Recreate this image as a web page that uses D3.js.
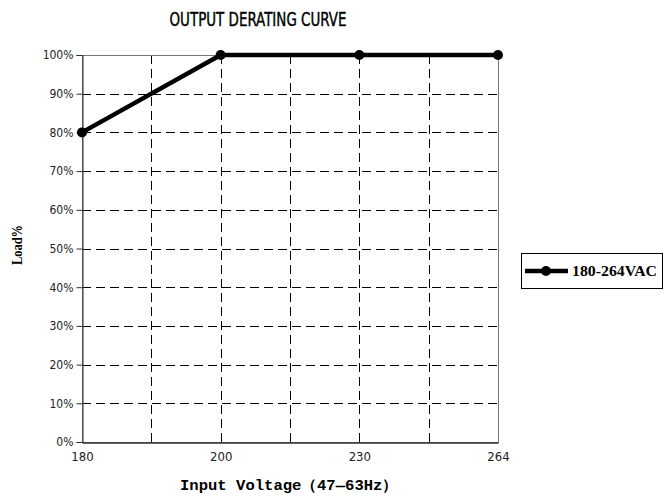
<!DOCTYPE html>
<html>
<head>
<meta charset="utf-8">
<script src="https://cdn.jsdelivr.net/npm/d3@7"></script>
<style>
  body { margin: 0; background: #fff; }
  svg { display: block; }
</style>
</head>
<body>
<div id="chart"></div>
<script>
// Output derating curve
var categories = ["180", "200", "230", "264"];
var loads = [80, 100, 100, 100];
var yTicks = [0, 10, 20, 30, 40, 50, 60, 70, 80, 90, 100];
var seriesName = "180-264VAC";

var svgWidth = 667, svgHeight = 497;
var plot = {left: 82, right: 498, top: 55, bottom: 442};

var svg = d3.select("#chart").append("svg")
    .attr("width", svgWidth)
    .attr("height", svgHeight);

var x = d3.scalePoint().domain(categories).range([plot.left, plot.right]);
var y = d3.scaleLinear().domain([0, 100]).range([plot.bottom, plot.top]);

// vertical dashed grid: at categories and halfway between them
var xGrid = [];
categories.forEach(function(c, i) {
  if (i > 0) {
    xGrid.push((x(categories[i - 1]) + x(c)) / 2);
    if (i < categories.length - 1) xGrid.push(x(c));
  }
});

svg.append("g").selectAll("line")
    .data(xGrid)
  .enter().append("line")
    .attr("x1", function(d) { return Math.round(d) + 0.5; })
    .attr("x2", function(d) { return Math.round(d) + 0.5; })
    .attr("y1", plot.top)
    .attr("y2", plot.bottom)
    .attr("stroke", "#000")
    .attr("stroke-width", 1)
    .attr("stroke-dasharray", "9,5");

svg.append("g").selectAll("line")
    .data(yTicks.filter(function(t) { return t > 0 && t < 100; }))
  .enter().append("line")
    .attr("x1", plot.left)
    .attr("x2", plot.right)
    .attr("y1", function(d) { return Math.round(y(d)) + 0.5; })
    .attr("y2", function(d) { return Math.round(y(d)) + 0.5; })
    .attr("stroke", "#000")
    .attr("stroke-width", 1)
    .attr("stroke-dasharray", "9,5");

// plot border
svg.append("rect")
    .attr("x", plot.left + 0.5)
    .attr("y", plot.top + 0.5)
    .attr("width", plot.right - plot.left)
    .attr("height", plot.bottom - plot.top)
    .attr("fill", "none")
    .attr("stroke", "#777")
    .attr("stroke-width", 1);

// y axis
var leftAxis = d3.axisLeft(y)
    .tickValues(yTicks)
    .tickSize(6)
    .tickPadding(3)
    .tickFormat(function(d) { return d + "%"; });

var gy = svg.append("g")
    .attr("transform", "translate(" + (plot.left + 0.5) + ",0)")
    .call(leftAxis);
gy.select(".domain").attr("stroke", "#333");
gy.selectAll(".tick line").attr("stroke", "#333");
gy.selectAll("text")
    .style("font-family", "'DejaVu Sans Condensed', 'Liberation Sans Narrow', sans-serif")
    .style("font-size", "12px")
    .attr("fill", "#222");

// x axis
var bottomAxis = d3.axisBottom(x).tickSize(0).tickPadding(9);
var gx = svg.append("g")
    .attr("transform", "translate(0," + (plot.bottom + 0.5) + ")")
    .call(bottomAxis);
gx.select(".domain").attr("stroke", "#333").attr("stroke-width", 1.5);
gx.selectAll("text")
    .style("font-family", "'DejaVu Sans Condensed', 'Liberation Sans Narrow', sans-serif")
    .style("font-size", "13px")
    .attr("fill", "#222");

// series line
var line = d3.line()
    .x(function(d, i) { return x(categories[i]); })
    .y(function(d) { return y(d); });

svg.append("path")
    .datum(loads)
    .attr("d", line)
    .attr("fill", "none")
    .attr("stroke", "#000")
    .attr("stroke-width", 4.5)
    .attr("stroke-linejoin", "round");

svg.append("g").selectAll("circle")
    .data(loads)
  .enter().append("circle")
    .attr("cx", function(d, i) { return x(categories[i]); })
    .attr("cy", function(d) { return y(d); })
    .attr("r", 5)
    .attr("fill", "#000");

// title
svg.append("text")
    .attr("x", 258)
    .attr("y", 26)
    .attr("text-anchor", "middle")
    .style("font-family", "'Liberation Sans Narrow', 'DejaVu Sans Condensed', sans-serif")
    .style("font-size", "19px")
    .style("stroke", "#000")
    .style("stroke-width", 0.4)
    .attr("textLength", 177)
    .attr("lengthAdjust", "spacingAndGlyphs")
    .text("OUTPUT DERATING CURVE");

// axis titles
svg.append("text")
    .attr("transform", "translate(22,245) rotate(-90)")
    .attr("text-anchor", "middle")
    .style("font-family", "'Liberation Serif', serif")
    .style("font-weight", "bold")
    .style("font-size", "14px")
    .attr("textLength", 40)
    .attr("lengthAdjust", "spacingAndGlyphs")
    .text("Load%");

svg.append("text")
    .attr("x", 289)
    .attr("y", 490)
    .attr("text-anchor", "middle")
    .style("font-family", "'Liberation Mono', monospace")
    .style("font-weight", "bold")
    .style("font-size", "15px")
    .attr("textLength", 218)
    .attr("lengthAdjust", "spacingAndGlyphs")
    .text("Input Voltage\uFF0847\u201463Hz\uFF09");

// legend
var legend = svg.append("g");
legend.append("rect")
    .attr("x", 521.5)
    .attr("y", 253.5)
    .attr("width", 141)
    .attr("height", 35)
    .attr("fill", "#fff")
    .attr("stroke", "#000")
    .attr("stroke-width", 1);
legend.append("line")
    .attr("x1", 525).attr("x2", 568)
    .attr("y1", 271).attr("y2", 271)
    .attr("stroke", "#000")
    .attr("stroke-width", 4.5);
legend.append("circle")
    .attr("cx", 546).attr("cy", 271).attr("r", 5)
    .attr("fill", "#000");
legend.append("text")
    .attr("x", 572)
    .attr("y", 276)
    .style("font-family", "'Liberation Serif', serif")
    .style("font-weight", "bold")
    .style("font-size", "14px")
    .attr("textLength", 85)
    .attr("lengthAdjust", "spacingAndGlyphs")
    .text(seriesName);
</script>
</body>
</html>
